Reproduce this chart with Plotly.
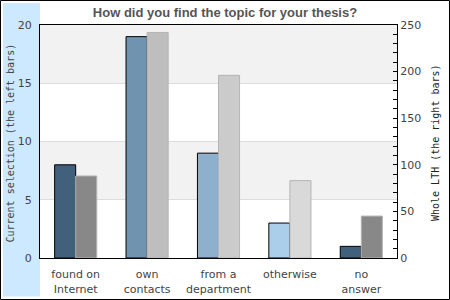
import plotly.graph_objects as go

categories = ["found on<br>Internet", "own<br>contacts", "from a<br>department", "otherwise", "no<br>answer"]
current_selection = [8, 19, 9, 3, 1]
whole_lth = [88, 242, 196, 83, 45]

left_colors = ["#40607c", "#7093b0", "#8fb0cc", "#abcfea", "#40607c"]
right_colors = ["#888888", "#bebebe", "#cbcbcb", "#d9d9d9", "#888888"]

W, H = 450, 300
L, R, T, B = 40, 53, 25, 42
PW, PH = W - L - R, H - T - B

def px(X):
    return (X - L) / PW

def py(Y):
    return (H - B - Y) / PH

fig = go.Figure()
fig.add_trace(go.Bar(
    x=categories, y=current_selection, yaxis="y", offsetgroup="1",
    marker=dict(color=left_colors, line=dict(color="black", width=1)),
    name="Current selection", showlegend=False,
))
fig.add_trace(go.Bar(
    x=categories, y=whole_lth, yaxis="y2", offsetgroup="2",
    marker=dict(color=right_colors, line=dict(color="#b4b4b4", width=1)),
    name="Whole LTH", showlegend=False,
))

shapes = [
    dict(type="rect", xref="paper", yref="paper", x0=px(0.5), x1=px(449.5), y0=py(0.5), y1=py(299.5),
         line=dict(color="black", width=1), fillcolor="rgba(0,0,0,0)", layer="above"),
    dict(type="rect", xref="paper", yref="paper", x0=px(3), x1=px(40), y0=py(3), y1=py(296.5),
         line=dict(width=0), fillcolor="#cce9ff", layer="below"),
    dict(type="rect", xref="x domain", yref="y", x0=0, x1=1, y0=15, y1=20,
         line=dict(width=0), fillcolor="#f2f2f2", layer="below"),
    dict(type="rect", xref="x domain", yref="y", x0=0, x1=1, y0=5, y1=10,
         line=dict(width=0), fillcolor="#f2f2f2", layer="below"),
]

tickfont = dict(family="DejaVu Sans", size=11, color="#444444")

fig.update_layout(
    width=W, height=H,
    margin=dict(l=L, r=R, t=T, b=B, pad=0, autoexpand=False),
    paper_bgcolor="white", plot_bgcolor="rgba(0,0,0,0)",
    barmode="group", bargap=0.41, bargroupgap=0,
    title=dict(text="<b>How did you find the topic for your thesis?</b>", x=0.5, xref="container",
               y=1 - 12 / H, yref="container", yanchor="middle", xanchor="center",
               font=dict(family="Liberation Sans", size=13, color="#555555")),
    xaxis=dict(range=[-0.5, 4.5], showline=True, linecolor="black", linewidth=1, mirror=True,
               ticks="outside", ticklen=6, tickcolor="rgba(0,0,0,0)", tickfont=tickfont,
               showgrid=False, fixedrange=True, automargin=False),
    yaxis=dict(range=[0, 20], dtick=5, showline=True, linecolor="black", linewidth=1, mirror=True,
               showgrid=True, gridcolor="#dddddd", gridwidth=1, zeroline=False, automargin=False,
               ticks="outside", ticklen=5, tickcolor="rgba(0,0,0,0)", tickfont=tickfont),
    yaxis2=dict(range=[0, 250], dtick=50, overlaying="y", side="right", showgrid=False, zeroline=False,
                showline=True, linecolor="black", linewidth=1, automargin=False,
                ticks="inside", ticklen=4, tickcolor="black", tickfont=tickfont,
                minor=dict(dtick=10, ticks="inside", ticklen=4, tickcolor="black", showgrid=False)),
    shapes=shapes,
    annotations=[
        dict(text="Current selection (the left bars)", textangle=-90, xref="paper", yref="paper",
             x=px(9.5), y=py(143), xanchor="center", yanchor="middle", showarrow=False,
             font=dict(family="DejaVu Sans Mono", size=10, color="#444444")),
        dict(text="Whole LTH (the right bars)", textangle=-90, xref="paper", yref="paper",
             x=px(435), y=py(143), xanchor="center", yanchor="middle", showarrow=False,
             font=dict(family="DejaVu Sans Mono", size=10, color="#222222")),
    ],
)

fig.write_html("out.html")
